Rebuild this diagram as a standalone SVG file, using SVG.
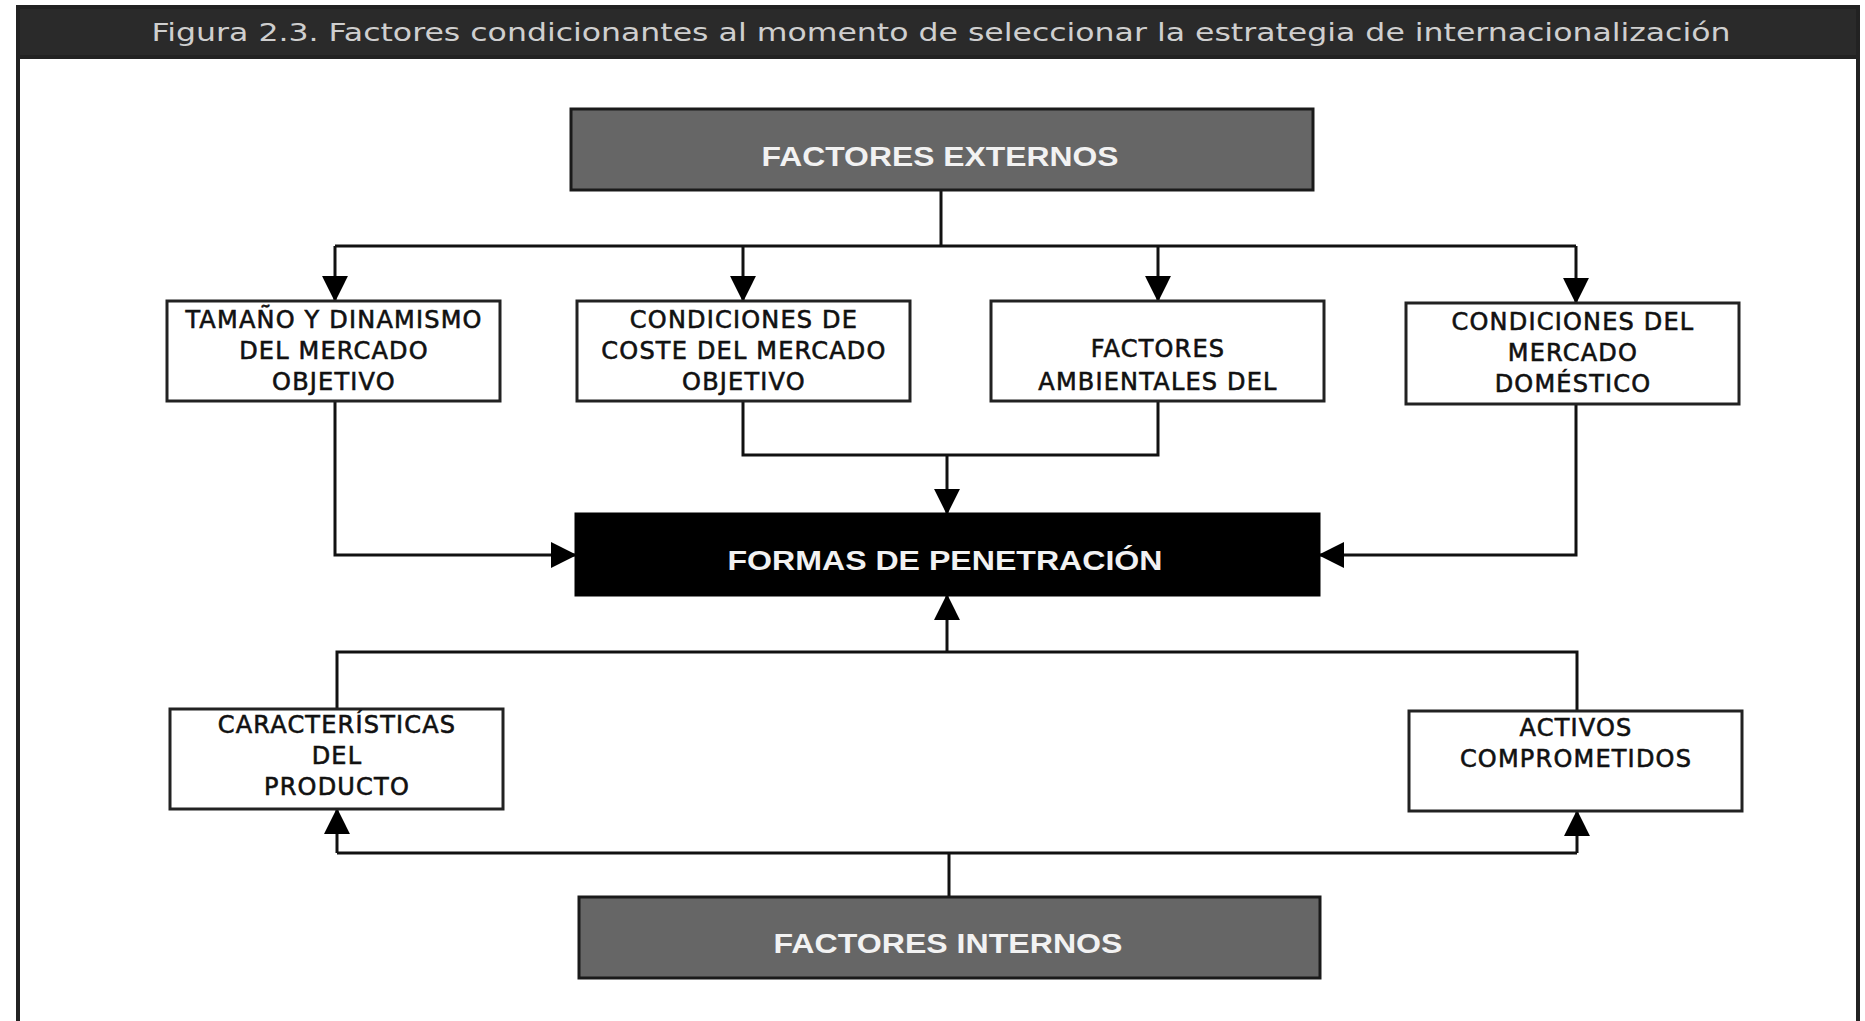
<svg xmlns="http://www.w3.org/2000/svg" width="1865" height="1021" viewBox="0 0 1865 1021">
<defs>
<style>
.box{fill:#fff;stroke:#222;stroke-width:3}
.grey{fill:#666;stroke:#1a1a1a;stroke-width:3}
.black{fill:#000;stroke:#000;stroke-width:3}
.lbl{font-family:"DejaVu Sans","Liberation Sans",sans-serif;font-size:24px;fill:#111;stroke:#111;stroke-width:0.6;text-anchor:middle;letter-spacing:1.2px}
.wl{font-family:"Liberation Sans","DejaVu Sans",sans-serif;font-weight:bold;font-size:27px;fill:#f2f2f2;text-anchor:middle}
.ttl{font-family:"DejaVu Sans","Liberation Sans",sans-serif;font-size:25px;fill:#cfcfcf;text-anchor:middle}
.ln{fill:none;stroke:#111;stroke-width:3}
</style>
<marker id="ah" markerUnits="userSpaceOnUse" markerWidth="26" markerHeight="28" refX="27" refY="14" orient="auto" viewBox="0 0 28 28">
<path d="M0,0 L28,14 L0,28 z" fill="#000"/>
</marker>
</defs>
<rect x="0" y="0" width="1865" height="1021" fill="#fff"/>
<g id="frame">
<rect x="18" y="7" width="1840" height="1020" fill="#fff" stroke="#222" stroke-width="4"/>
<rect x="18" y="7" width="1840" height="50" fill="#2a2a2a" stroke="#222" stroke-width="4"/>
<text class="ttl" x="941" y="41" textLength="1579" lengthAdjust="spacingAndGlyphs">Figura 2.3. Factores condicionantes al momento de seleccionar la estrategia de internacionalización</text>
</g>
<g id="connectors">
<path class="ln" d="M941,190 V246 M335,246 H1576"/>
<path class="ln" d="M335,246 V301" marker-end="url(#ah)"/>
<path class="ln" d="M743,246 V301" marker-end="url(#ah)"/>
<path class="ln" d="M1158,246 V301" marker-end="url(#ah)"/>
<path class="ln" d="M1576,246 V303" marker-end="url(#ah)"/>
<path class="ln" d="M335,401 V555 H576" marker-end="url(#ah)"/>
<path class="ln" d="M743,401 V455 H1158 V401"/>
<path class="ln" d="M947,455 V514" marker-end="url(#ah)"/>
<path class="ln" d="M1576,404 V555 H1319" marker-end="url(#ah)"/>
<path class="ln" d="M337,709 V652 H1577 V711"/>
<path class="ln" d="M947,652 V595" marker-end="url(#ah)"/>
<path class="ln" d="M949,897 V853 M337,853 H1577"/>
<path class="ln" d="M337,853 V809" marker-end="url(#ah)"/>
<path class="ln" d="M1577,853 V811" marker-end="url(#ah)"/>
</g>
<g id="externos">
<rect class="grey" x="571" y="109" width="742" height="81"/>
<text class="wl" x="940" y="166" textLength="357" lengthAdjust="spacingAndGlyphs">FACTORES EXTERNOS</text>
</g>
<g id="tamano">
<rect class="box" x="167" y="301" width="333" height="100"/>
<text class="lbl" x="334" y="328">TAMAÑO Y DINAMISMO</text>
<text class="lbl" x="334" y="359">DEL MERCADO</text>
<text class="lbl" x="334" y="390">OBJETIVO</text>
</g>
<g id="coste">
<rect class="box" x="577" y="301" width="333" height="100"/>
<text class="lbl" x="744" y="328">CONDICIONES DE</text>
<text class="lbl" x="744" y="359">COSTE DEL MERCADO</text>
<text class="lbl" x="744" y="390">OBJETIVO</text>
</g>
<g id="ambientales">
<rect class="box" x="991" y="301" width="333" height="100"/>
<text class="lbl" x="1158" y="357">FACTORES</text>
<text class="lbl" x="1158" y="390">AMBIENTALES DEL</text>
</g>
<g id="domestico">
<rect class="box" x="1406" y="303" width="333" height="101"/>
<text class="lbl" x="1573" y="330">CONDICIONES DEL</text>
<text class="lbl" x="1573" y="361">MERCADO</text>
<text class="lbl" x="1573" y="392">DOMÉSTICO</text>
</g>
<g id="formas">
<rect class="black" x="576" y="514" width="743" height="81"/>
<text class="wl" x="945" y="570" textLength="435" lengthAdjust="spacingAndGlyphs">FORMAS DE PENETRACIÓN</text>
</g>
<g id="caracteristicas">
<rect class="box" x="170" y="709" width="333" height="100"/>
<text class="lbl" x="337" y="733">CARACTERÍSTICAS</text>
<text class="lbl" x="337" y="764">DEL</text>
<text class="lbl" x="337" y="795">PRODUCTO</text>
</g>
<g id="activos">
<rect class="box" x="1409" y="711" width="333" height="100"/>
<text class="lbl" x="1576" y="736">ACTIVOS</text>
<text class="lbl" x="1576" y="767">COMPROMETIDOS</text>
</g>
<g id="internos">
<rect class="grey" x="579" y="897" width="741" height="81"/>
<text class="wl" x="948" y="953" textLength="349" lengthAdjust="spacingAndGlyphs">FACTORES INTERNOS</text>
</g>
</svg>
